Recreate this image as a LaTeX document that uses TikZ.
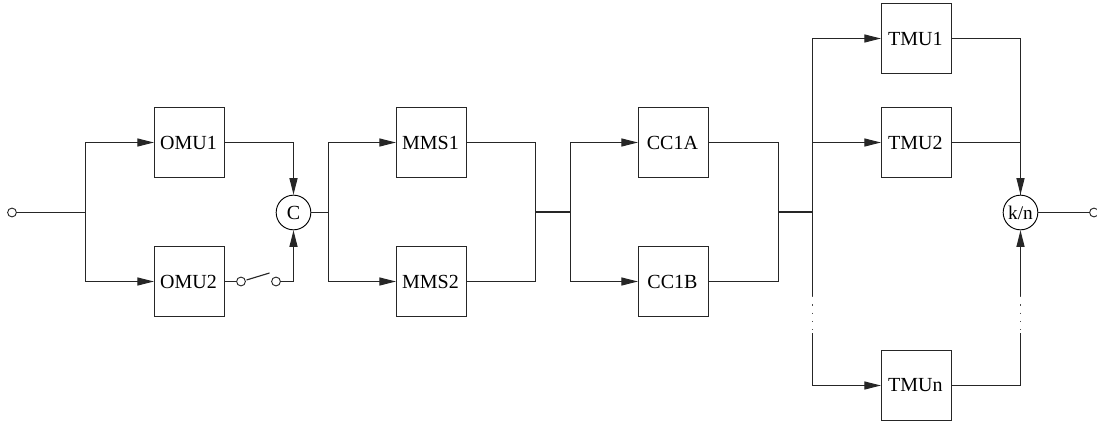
\documentclass[tikz,border=0pt]{standalone}
\usepackage{fontspec}
\setmainfont{Liberation Serif}
\usetikzlibrary{arrows.meta}
\newcommand{\boxlabel}[1]{\raisebox{-0.8pt}{#1\kern1.6pt}}
\tikzset{
  x=0.75pt,y=-0.75pt,
  wire/.style={line width=0.85pt,draw=black!85},
  busbar/.style={line width=1.5pt,draw=black!85},
  arr/.style={wire,-{Triangle[length=12.4pt,width=6pt]}},
  unitbox/.style={draw=black!85,line width=0.85pt,minimum width=52.5pt,minimum height=52.5pt,inner sep=0pt,font=\fontsize{15}{15}\selectfont},
  gate/.style={circle,draw=black,line width=0.7pt,minimum size=26pt,inner sep=0pt},
  term/.style={circle,draw=black!85,line width=0.7pt,minimum size=6.6pt,inner sep=0pt},
  dotted wire/.style={line width=0.85pt,draw=black!70,dash pattern=on 1pt off 5.2pt}
}
\begin{document}
\begin{tikzpicture}
\useasboundingbox (0,0) rectangle (1097,421);
\node[unitbox] (omu1) at (189.5,142.5) {\boxlabel{OMU1}};
\node[unitbox] (omu2) at (189.5,281.5) {\boxlabel{OMU2}};
\node[unitbox] (mms1) at (431.5,142.5) {\boxlabel{MMS1}};
\node[unitbox] (mms2) at (431.5,281.5) {\boxlabel{MMS2}};
\node[unitbox] (cca) at (673.5,142.5) {\boxlabel{CC1A}};
\node[unitbox] (ccb) at (673.5,281.5) {\boxlabel{CC1B}};
\node[unitbox] (tmu1) at (916.5,38.5) {\boxlabel{TMU1}};
\node[unitbox] (tmu2) at (916.5,142.5) {\boxlabel{TMU2}};
\node[unitbox] (tmun) at (916.5,385.5) {\boxlabel{TMUn}};
\node[gate,font=\fontsize{15}{15}\selectfont] (c) at (293.5,212.5) {C};
\node[gate,font=\fontsize{14.5}{15}\selectfont] (kn) at (1020.5,212.5) {k/n};
\node[term] (in) at (12,212.5) {};
\node[term] (out) at (1094,212.5) {};
\node[term] (sw1) at (241,281.5) {};
\node[term] (sw2) at (276,281.5) {};
\coordinate (s1) at (85.5,212.5);
\coordinate (s2) at (328.5,212.5);
\coordinate (m2) at (535.5,212);
\coordinate (s3) at (570.5,212);
\coordinate (m3) at (778.5,212);
\coordinate (s4) at (812.5,212);
\coordinate (armA) at (246.5,280);
\coordinate (armB) at (269.5,273);
\coordinate (d1) at (812.5,296);
\coordinate (d2) at (812.5,333);
\coordinate (d3) at (1020.5,296);
\coordinate (d4) at (1020.5,333);
% input stage
\draw[wire] (in) -- (s1);
\draw[arr] (s1) |- (omu1);
\draw[arr] (s1) |- (omu2);
\draw[arr] (omu1) -| (c);
\draw[wire] (omu2) -- (sw1);
\draw[wire] (armA) -- (armB);
\draw[arr] (sw2) -| (c);
% MMS stage
\draw[wire] (c) -- (s2);
\draw[arr] (s2) |- (mms1);
\draw[arr] (s2) |- (mms2);
\draw[wire] (mms1) -| (m2);
\draw[wire] (mms2) -| (m2);
% CC stage
\draw[busbar] (m2) -- (s3);
\draw[arr] (s3) |- (cca);
\draw[arr] (s3) |- (ccb);
\draw[wire] (cca) -| (m3);
\draw[wire] (ccb) -| (m3);
% TMU stage
\draw[busbar] (m3) -- (s4);
\draw[arr] (s4) |- (tmu1);
\draw[arr] (s4 |- tmu2) -- (tmu2);
\draw[wire] (s4) -- (d1);
\draw[dotted wire] (d1) -- (d2);
\draw[arr] (d2) |- (tmun);
\draw[arr] (tmu1) -| (kn);
\draw[wire] (tmu2) -| (kn);
\draw[wire] (tmun) -| (d4);
\draw[dotted wire] (d3) -- (d4);
\draw[arr] (d3) -- (kn);
\draw[wire] (kn) -- (out);
\end{tikzpicture}
\end{document}
